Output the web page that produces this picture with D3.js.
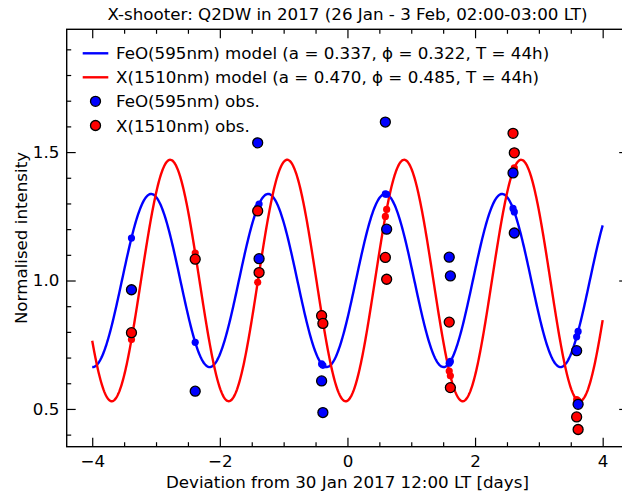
<!DOCTYPE html>
<html>
<head>
<meta charset="utf-8">
<script src="https://cdn.jsdelivr.net/npm/d3@7"></script>
<style>
  html, body { margin: 0; padding: 0; background: #fff; }
  svg { display: block; font-family: "DejaVu Sans", sans-serif; }
</style>
</head>
<body>
<svg id="chart" width="622" height="491"></svg>
<script>
// ---- data ----
const titleText = "X-shooter: Q2DW in 2017 (26 Jan - 3 Feb, 02:00-03:00 LT)";
const xLabelText = "Deviation from 30 Jan 2017 12:00 LT [days]";
const yLabelText = "Normalised intensity";

const seriesNames = ["FeO(595nm)", "X(1510nm)"];
const seriesColors = ["#0000ff", "#ff0000"];
// model parameters: amplitude a, phase phi, period T (hours)
const modelA = [0.337, 0.470];
const modelPhi = [0.322, 0.485];
const modelT = [44, 44];
const modelRange = [-4, 4];

// observation times (days from 30 Jan 2017 12:00 LT)
const obsTimes = [-3.385, -2.386, -1.407, -1.385, -0.405, -0.385, 0.594, 0.6145,
                  1.595, 1.613, 2.595, 2.615, 3.592, 3.615];
const obsFeO = [0.964, 0.569, 1.536, 1.085, 0.609, 0.486, 1.617, 1.200,
                1.091, 1.018, 1.419, 1.185, 0.727, 0.518];
const obsX   = [0.797, 1.083, 1.271, 1.031, 0.863, 0.833, 1.090, 1.005,
                0.838, 0.583, 1.573, 1.497, 0.469, 0.420];

const xTickValues = [-4, -2, 0, 2, 4];
const xTickLabels = ["\u22124", "\u22122", "0", "2", "4"];
const yTickValues = [0.5, 1.0, 1.5];
const yTickLabels = ["0.5", "1.0", "1.5"];
const xDomain = [-4.4, 4.4];
const yDomain = [0.353, 1.978];

// ---- layout ----
const L = 66.7, R = 628.2, T = 29.3, B = 446.7;
const FS = 16.7;
const svg = d3.select("#chart");

const x = d3.scaleLinear().domain(xDomain).range([L, R]);
const y = d3.scaleLinear().domain(yDomain).range([B, T]);

const model = (i, t) => 1 + modelA[i] * Math.cos(2 * Math.PI * (t * 24 / modelT[i] - modelPhi[i]));

const plot = svg.append("g");
plot.append("clipPath").attr("id", "clip").append("rect")
  .attr("x", L).attr("y", T).attr("width", R - L).attr("height", B - T);
const inner = plot.append("g").attr("clip-path", "url(#clip)");

// model curves
const tSamples = d3.range(0, 801).map(k => modelRange[0] + (modelRange[1] - modelRange[0]) * k / 800);
const line = d3.line().x(d => x(d[0])).y(d => y(d[1]));
[0, 1].forEach(i => {
  inner.append("path")
    .datum(tSamples.map(t => [t, model(i, t)]))
    .attr("d", line)
    .attr("fill", "none")
    .attr("stroke", seriesColors[i])
    .attr("stroke-width", 2.4);
});

// model values at observation times (small dots)
[0, 1].forEach(i => {
  inner.append("g").selectAll("circle").data(obsTimes).join("circle")
    .attr("cx", t => x(t)).attr("cy", t => y(model(i, t)))
    .attr("r", 3.6).attr("fill", seriesColors[i]);
});

// observations
[obsFeO, obsX].forEach((vals, i) => {
  inner.append("g").selectAll("circle").data(vals).join("circle")
    .attr("cx", (d, j) => x(obsTimes[j])).attr("cy", d => y(d))
    .attr("r", 5).attr("fill", seriesColors[i])
    .attr("stroke", "#000").attr("stroke-width", 1.3);
});

// ---- axes ----
const major = 9, minor = 4.5;
const xMinor = d3.range(-4.0, 4.01, 0.5).filter(v => Math.abs(v / 2 - Math.round(v / 2)) > 1e-6);
const yMinor = d3.range(0.4, 1.95, 0.1).map(v => +v.toFixed(1)).filter(v => Math.abs(v * 2 - Math.round(v * 2)) > 1e-6);

function styleAxis(g) {
  g.select(".domain").remove();
  g.selectAll("line").attr("stroke", "#000").attr("stroke-width", 1.2);
  g.selectAll("text").attr("fill", "#000").attr("font-size", FS)
    .attr("font-family", "DejaVu Sans, sans-serif");
}

svg.append("g").attr("transform", `translate(0,${B})`)
  .call(d3.axisBottom(x).tickValues(xTickValues).tickFormat((d, k) => xTickLabels[k])
    .tickSizeInner(-major).tickSizeOuter(0).tickPadding(8.4)).call(styleAxis);
svg.append("g").attr("transform", `translate(0,${B})`)
  .call(d3.axisBottom(x).tickValues(xMinor).tickFormat("").tickSizeInner(-minor).tickSizeOuter(0)).call(styleAxis);
svg.append("g").attr("transform", `translate(0,${T})`)
  .call(d3.axisTop(x).tickValues(xTickValues).tickFormat("").tickSizeInner(-major).tickSizeOuter(0)).call(styleAxis);
svg.append("g").attr("transform", `translate(0,${T})`)
  .call(d3.axisTop(x).tickValues(xMinor).tickFormat("").tickSizeInner(-minor).tickSizeOuter(0)).call(styleAxis);

svg.append("g").attr("transform", `translate(${L},0)`)
  .call(d3.axisLeft(y).tickValues(yTickValues).tickFormat((d, k) => yTickLabels[k])
    .tickSizeInner(-major).tickSizeOuter(0).tickPadding(7.4)).call(styleAxis);
svg.append("g").attr("transform", `translate(${L},0)`)
  .call(d3.axisLeft(y).tickValues(yMinor).tickFormat("").tickSizeInner(-minor).tickSizeOuter(0)).call(styleAxis);
svg.append("g").attr("transform", `translate(${R},0)`)
  .call(d3.axisRight(y).tickValues(yTickValues).tickFormat("").tickSizeInner(-major).tickSizeOuter(0)).call(styleAxis);
svg.append("g").attr("transform", `translate(${R},0)`)
  .call(d3.axisRight(y).tickValues(yMinor).tickFormat("").tickSizeInner(-minor).tickSizeOuter(0)).call(styleAxis);

// frame
svg.append("rect").attr("x", L).attr("y", T).attr("width", R - L).attr("height", B - T)
  .attr("fill", "none").attr("stroke", "#000").attr("stroke-width", 1.4);

// ---- texts ----
svg.append("text").attr("x", (L + R) / 2).attr("y", 20).attr("text-anchor", "middle")
  .attr("font-size", FS).attr("fill", "#000").text(titleText);
svg.append("text").attr("x", (L + R) / 2).attr("y", 488).attr("text-anchor", "middle")
  .attr("font-size", FS).attr("fill", "#000").text(xLabelText);
svg.append("text").attr("transform", `translate(27,${(T + B) / 2}) rotate(-90)`)
  .attr("text-anchor", "middle").attr("font-size", FS).attr("fill", "#000").text(yLabelText);

// ---- legend ----
const legendItems = [
  { type: "line", color: seriesColors[0], label: `${seriesNames[0]} model (a = ${modelA[0].toFixed(3)}, \u03D5 = ${modelPhi[0].toFixed(3)}, T = ${modelT[0]}h)` },
  { type: "line", color: seriesColors[1], label: `${seriesNames[1]} model (a = ${modelA[1].toFixed(3)}, \u03D5 = ${modelPhi[1].toFixed(3)}, T = ${modelT[1]}h)` },
  { type: "dot", color: seriesColors[0], label: `${seriesNames[0]} obs.` },
  { type: "dot", color: seriesColors[1], label: `${seriesNames[1]} obs.` }
];
const legendY = [53.3, 77.3, 101.3, 125.5];
const lg = svg.append("g");
legendItems.forEach((it, k) => {
  const g = lg.append("g").attr("transform", `translate(0,${legendY[k]})`);
  if (it.type === "line") {
    g.append("line").attr("x1", 82.7).attr("x2", 108.3).attr("y1", 0).attr("y2", 0)
      .attr("stroke", it.color).attr("stroke-width", 2.4);
  } else {
    g.append("circle").attr("cx", 95.5).attr("cy", 0).attr("r", 5)
      .attr("fill", it.color).attr("stroke", "#000").attr("stroke-width", 1.3);
  }
  g.append("text").attr("x", 116).attr("y", 0).attr("dy", "0.36em")
    .attr("font-size", FS).attr("fill", "#000").text(it.label);
});
</script>
</body>
</html>
